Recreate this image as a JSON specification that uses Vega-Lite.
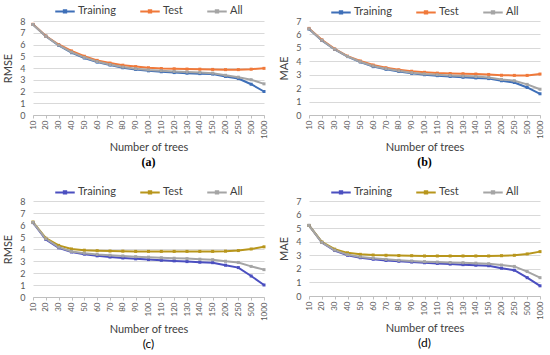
{
  "$schema": "https://vega.github.io/schema/vega-lite/v6.json",
  "padding": {"left": 2, "top": 0, "right": 5, "bottom": 0},
  "background": "white",
  "datasets": {
    "metrics": [
      {"panel": "a", "trees": 10, "Training": 7.7, "Test": 7.72, "All": 7.7},
      {"panel": "a", "trees": 20, "Training": 6.7, "Test": 6.72, "All": 6.7},
      {"panel": "a", "trees": 30, "Training": 5.93, "Test": 6.0, "All": 5.95},
      {"panel": "a", "trees": 40, "Training": 5.3, "Test": 5.45, "All": 5.35},
      {"panel": "a", "trees": 50, "Training": 4.85, "Test": 5.0, "All": 4.9},
      {"panel": "a", "trees": 60, "Training": 4.5, "Test": 4.65, "All": 4.55},
      {"panel": "a", "trees": 70, "Training": 4.25, "Test": 4.42, "All": 4.3},
      {"panel": "a", "trees": 80, "Training": 4.02, "Test": 4.24, "All": 4.08},
      {"panel": "a", "trees": 90, "Training": 3.87, "Test": 4.12, "All": 3.94},
      {"panel": "a", "trees": 100, "Training": 3.76, "Test": 4.02, "All": 3.84},
      {"panel": "a", "trees": 110, "Training": 3.68, "Test": 3.96, "All": 3.77},
      {"panel": "a", "trees": 120, "Training": 3.61, "Test": 3.93, "All": 3.71},
      {"panel": "a", "trees": 130, "Training": 3.56, "Test": 3.91, "All": 3.66},
      {"panel": "a", "trees": 140, "Training": 3.52, "Test": 3.9, "All": 3.61},
      {"panel": "a", "trees": 150, "Training": 3.48, "Test": 3.88, "All": 3.56},
      {"panel": "a", "trees": 200, "Training": 3.28, "Test": 3.86, "All": 3.38},
      {"panel": "a", "trees": 250, "Training": 3.1, "Test": 3.86, "All": 3.22},
      {"panel": "a", "trees": 500, "Training": 2.62, "Test": 3.9, "All": 3.0},
      {"panel": "a", "trees": 1000, "Training": 2.0, "Test": 3.97, "All": 2.65},

      {"panel": "b", "trees": 10, "Training": 6.4, "Test": 6.45, "All": 6.42},
      {"panel": "b", "trees": 20, "Training": 5.55, "Test": 5.6, "All": 5.57},
      {"panel": "b", "trees": 30, "Training": 4.88, "Test": 4.92, "All": 4.9},
      {"panel": "b", "trees": 40, "Training": 4.35, "Test": 4.38, "All": 4.36},
      {"panel": "b", "trees": 50, "Training": 3.95, "Test": 4.02, "All": 3.97},
      {"panel": "b", "trees": 60, "Training": 3.6, "Test": 3.72, "All": 3.65},
      {"panel": "b", "trees": 70, "Training": 3.4, "Test": 3.52, "All": 3.45},
      {"panel": "b", "trees": 80, "Training": 3.24, "Test": 3.37, "All": 3.29},
      {"panel": "b", "trees": 90, "Training": 3.1, "Test": 3.26, "All": 3.15},
      {"panel": "b", "trees": 100, "Training": 3.0, "Test": 3.18, "All": 3.06},
      {"panel": "b", "trees": 110, "Training": 2.93, "Test": 3.12, "All": 3.0},
      {"panel": "b", "trees": 120, "Training": 2.87, "Test": 3.09, "All": 2.95},
      {"panel": "b", "trees": 130, "Training": 2.81, "Test": 3.07, "All": 2.9},
      {"panel": "b", "trees": 140, "Training": 2.76, "Test": 3.05, "All": 2.86},
      {"panel": "b", "trees": 150, "Training": 2.71, "Test": 3.02, "All": 2.8},
      {"panel": "b", "trees": 200, "Training": 2.55, "Test": 2.96, "All": 2.65},
      {"panel": "b", "trees": 250, "Training": 2.42, "Test": 2.95, "All": 2.55},
      {"panel": "b", "trees": 500, "Training": 2.05, "Test": 2.95, "All": 2.28},
      {"panel": "b", "trees": 1000, "Training": 1.58, "Test": 3.05, "All": 1.92},

      {"panel": "c", "trees": 10, "Training": 6.2, "Test": 6.25, "All": 6.22},
      {"panel": "c", "trees": 20, "Training": 4.8, "Test": 4.9, "All": 4.85},
      {"panel": "c", "trees": 30, "Training": 4.1, "Test": 4.3, "All": 4.15},
      {"panel": "c", "trees": 40, "Training": 3.75, "Test": 4.0, "All": 3.8},
      {"panel": "c", "trees": 50, "Training": 3.57, "Test": 3.9, "All": 3.65},
      {"panel": "c", "trees": 60, "Training": 3.43, "Test": 3.86, "All": 3.55},
      {"panel": "c", "trees": 70, "Training": 3.33, "Test": 3.83, "All": 3.48},
      {"panel": "c", "trees": 80, "Training": 3.25, "Test": 3.82, "All": 3.42},
      {"panel": "c", "trees": 90, "Training": 3.18, "Test": 3.8, "All": 3.36},
      {"panel": "c", "trees": 100, "Training": 3.12, "Test": 3.8, "All": 3.32},
      {"panel": "c", "trees": 110, "Training": 3.06, "Test": 3.8, "All": 3.27},
      {"panel": "c", "trees": 120, "Training": 3.01, "Test": 3.8, "All": 3.23},
      {"panel": "c", "trees": 130, "Training": 2.95, "Test": 3.8, "All": 3.2},
      {"panel": "c", "trees": 140, "Training": 2.9, "Test": 3.8, "All": 3.15},
      {"panel": "c", "trees": 150, "Training": 2.86, "Test": 3.8, "All": 3.11},
      {"panel": "c", "trees": 200, "Training": 2.65, "Test": 3.82, "All": 2.98},
      {"panel": "c", "trees": 250, "Training": 2.45, "Test": 3.87, "All": 2.88},
      {"panel": "c", "trees": 500, "Training": 1.75, "Test": 4.0, "All": 2.55},
      {"panel": "c", "trees": 1000, "Training": 1.0, "Test": 4.18, "All": 2.28},

      {"panel": "d", "trees": 10, "Training": 5.2, "Test": 5.2, "All": 5.2},
      {"panel": "d", "trees": 20, "Training": 3.95, "Test": 3.98, "All": 3.95},
      {"panel": "d", "trees": 30, "Training": 3.35, "Test": 3.45, "All": 3.38},
      {"panel": "d", "trees": 40, "Training": 3.0, "Test": 3.18, "All": 3.05},
      {"panel": "d", "trees": 50, "Training": 2.82, "Test": 3.07, "All": 2.88},
      {"panel": "d", "trees": 60, "Training": 2.71, "Test": 3.02, "All": 2.78},
      {"panel": "d", "trees": 70, "Training": 2.62, "Test": 3.0, "All": 2.7},
      {"panel": "d", "trees": 80, "Training": 2.56, "Test": 2.98, "All": 2.63},
      {"panel": "d", "trees": 90, "Training": 2.5, "Test": 2.97, "All": 2.58},
      {"panel": "d", "trees": 100, "Training": 2.45, "Test": 2.95, "All": 2.53},
      {"panel": "d", "trees": 110, "Training": 2.4, "Test": 2.95, "All": 2.5},
      {"panel": "d", "trees": 120, "Training": 2.35, "Test": 2.95, "All": 2.47},
      {"panel": "d", "trees": 130, "Training": 2.31, "Test": 2.95, "All": 2.45},
      {"panel": "d", "trees": 140, "Training": 2.27, "Test": 2.95, "All": 2.42},
      {"panel": "d", "trees": 150, "Training": 2.23, "Test": 2.95, "All": 2.38},
      {"panel": "d", "trees": 200, "Training": 2.05, "Test": 2.97, "All": 2.28},
      {"panel": "d", "trees": 250, "Training": 1.9, "Test": 3.0, "All": 2.18},
      {"panel": "d", "trees": 500, "Training": 1.35, "Test": 3.1, "All": 1.8},
      {"panel": "d", "trees": 1000, "Training": 0.75, "Test": 3.27, "All": 1.35}
    ]
  },
  "data": {"name": "metrics"},
  "transform": [{"fold": ["Training", "Test", "All"], "as": ["series", "value"]}],
  "spacing": 13,
  "resolve": {"scale": {"color": "independent"}, "legend": {"color": "independent"}},
  "vconcat": [
    {
      "spacing": 10,
      "resolve": {"scale": {"color": "independent"}, "legend": {"color": "independent"}},
      "hconcat": [
        {
          "width": 231, "height": 94,
          "title": {"text": "(a)", "orient": "bottom", "font": "Liberation Serif", "fontWeight": "bold", "fontSize": 12, "color": "#000000", "offset": 4},
          "transform": [{"filter": "datum.panel === 'a'"}],
          "encoding": {
            "x": {"field": "trees", "type": "ordinal", "title": "Number of trees"},
            "y": {"field": "value", "type": "quantitative", "title": "RMSE", "scale": {"domain": [0, 8]}, "axis": {"values": [0,1,2,3,4,5,6,7,8]}},
            "color": {"field": "series", "type": "nominal", "scale": {"domain": ["Training", "Test", "All"], "range": ["#3E6FB8", "#F0793A", "#A5A5A5"]}, "title": null}
          },
          "layer": [{"mark": {"type": "line", "strokeWidth": 2}}, {"mark": {"type": "point", "filled": true, "size": 9, "shape": "square", "opacity": 1}}]
        },
        {
          "width": 231, "height": 94,
          "title": {"text": "(b)", "orient": "bottom", "font": "Liberation Serif", "fontWeight": "bold", "fontSize": 12, "color": "#000000", "offset": 4},
          "transform": [{"filter": "datum.panel === 'b'"}],
          "encoding": {
            "x": {"field": "trees", "type": "ordinal", "title": "Number of trees"},
            "y": {"field": "value", "type": "quantitative", "title": "MAE", "scale": {"domain": [0, 7]}, "axis": {"values": [0,1,2,3,4,5,6,7]}},
            "color": {"field": "series", "type": "nominal", "scale": {"domain": ["Training", "Test", "All"], "range": ["#3E6FB8", "#F0793A", "#A5A5A5"]}, "title": null}
          },
          "layer": [{"mark": {"type": "line", "strokeWidth": 2}}, {"mark": {"type": "point", "filled": true, "size": 9, "shape": "square", "opacity": 1}}]
        }
      ]
    },
    {
      "spacing": 10,
      "resolve": {"scale": {"color": "independent"}, "legend": {"color": "independent"}},
      "hconcat": [
        {
          "width": 231, "height": 96,
          "title": {"text": "(c)", "orient": "bottom", "font": "Lato", "fontWeight": "normal", "fontSize": 12, "color": "#000000", "offset": 4},
          "transform": [{"filter": "datum.panel === 'c'"}],
          "encoding": {
            "x": {"field": "trees", "type": "ordinal", "title": "Number of trees"},
            "y": {"field": "value", "type": "quantitative", "title": "RMSE", "scale": {"domain": [0, 8]}, "axis": {"values": [0,1,2,3,4,5,6,7,8]}},
            "color": {"field": "series", "type": "nominal", "scale": {"domain": ["Training", "Test", "All"], "range": ["#4B4FC0", "#B8961C", "#A5A5A5"]}, "title": null}
          },
          "layer": [{"mark": {"type": "line", "strokeWidth": 2}}, {"mark": {"type": "point", "filled": true, "size": 9, "shape": "square", "opacity": 1}}]
        },
        {
          "width": 231, "height": 95,
          "title": {"text": "(d)", "orient": "bottom", "font": "Lato", "fontWeight": "normal", "fontSize": 12, "color": "#000000", "offset": 4},
          "transform": [{"filter": "datum.panel === 'd'"}],
          "encoding": {
            "x": {"field": "trees", "type": "ordinal", "title": "Number of trees"},
            "y": {"field": "value", "type": "quantitative", "title": "MAE", "scale": {"domain": [0, 7]}, "axis": {"values": [0,1,2,3,4,5,6,7]}},
            "color": {"field": "series", "type": "nominal", "scale": {"domain": ["Training", "Test", "All"], "range": ["#4B4FC0", "#B8961C", "#A5A5A5"]}, "title": null}
          },
          "layer": [{"mark": {"type": "line", "strokeWidth": 2}}, {"mark": {"type": "point", "filled": true, "size": 9, "shape": "square", "opacity": 1}}]
        }
      ]
    }
  ],
  "config": {
    "font": "Lato",
    "view": {"stroke": null},
    "scale": {"pointPadding": 0},
    "title": {"anchor": "middle"},
    "axis": {
      "labelFont": "Lato", "titleFont": "Lato", "labelColor": "#595959", "titleColor": "#404040",
      "labelFontSize": 8, "titleFontSize": 11, "titleFontWeight": "normal"
    },
    "axisX": {
      "labelAngle": -90, "labelAlign": "right", "labelBaseline": "middle", "labelPadding": 2,
      "domainColor": "#BFBFBF", "tickColor": "#BFBFBF", "tickSize": 3, "grid": false, "titlePadding": 3
    },
    "axisY": {
      "domain": false, "ticks": false, "gridColor": "#D9D9D9", "labelPadding": 8, "titlePadding": 6, "labelFontSize": 9
    },
    "legend": {
      "orient": "top", "direction": "horizontal", "labelFont": "Lato", "labelFontSize": 11, "labelColor": "#404040",
      "symbolType": "M-1,0H1M-0.12,-0.12H0.12V0.12H-0.12Z", "symbolStrokeWidth": 2, "symbolSize": 380,
      "columnPadding": 20, "offset": 3, "padding": 0, "labelOffset": 2,
      "layout": {"top": {"anchor": "middle"}}
    }
  }
}
